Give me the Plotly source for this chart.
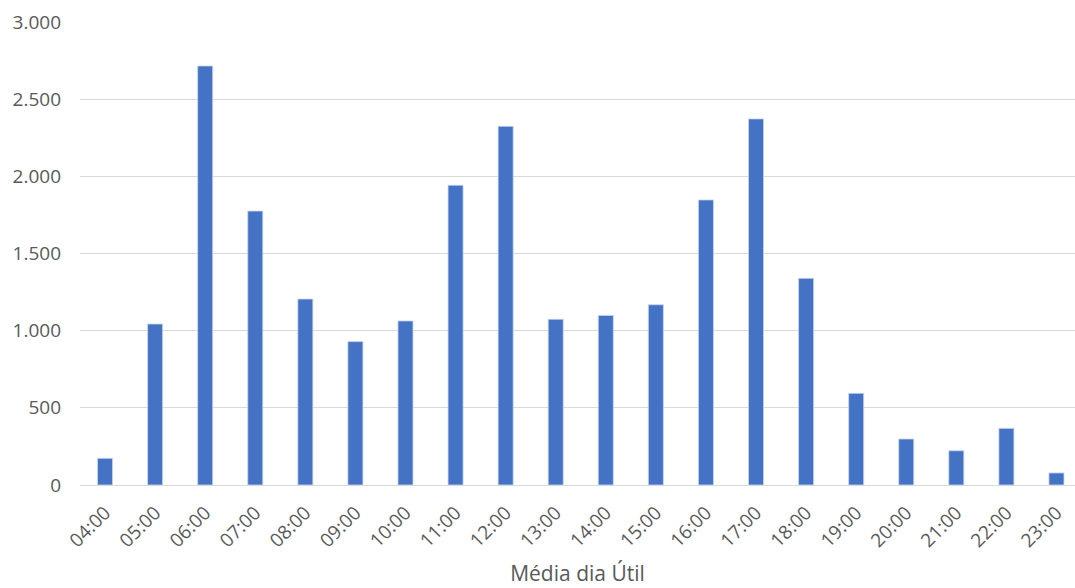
import plotly.graph_objects as go

# Average weekday volume per hour
hours = ["04:00", "05:00", "06:00", "07:00", "08:00", "09:00", "10:00", "11:00",
         "12:00", "13:00", "14:00", "15:00", "16:00", "17:00", "18:00", "19:00",
         "20:00", "21:00", "22:00", "23:00"]
values = [173, 1043, 2715, 1775, 1205, 929, 1063, 1942, 2324, 1074,
          1099, 1168, 1847, 2372, 1339, 594, 298, 222, 367, 78]

y_ticks = [0, 500, 1000, 1500, 2000, 2500, 3000]
y_tick_text = ["0", "500", "1.000", "1.500", "2.000", "2.500", "3.000"]

bar_color = "#4472C4"
text_color = "#595959"
grid_color = "#D9D9D9"

fig = go.Figure(
    go.Bar(
        x=list(range(len(hours))),
        y=values,
        marker=dict(color=bar_color, line=dict(color="#C9D6EE", width=0.8)),
        width=0.3,
    )
)

fig.update_layout(
    width=1075,
    height=588,
    margin=dict(l=80, r=0, t=22, b=103),
    paper_bgcolor="white",
    plot_bgcolor="white",
    showlegend=False,
    font=dict(family="Open Sans, sans-serif", color=text_color, size=19),
)

fig.update_xaxes(
    range=[-0.5, 19.37],
    tickmode="array",
    tickvals=list(range(len(hours))),
    ticktext=hours,
    tickangle=-45,
    tickfont=dict(size=19, color=text_color),
    showgrid=False,
    showline=False,
    zeroline=False,
    ticks="",
    ticklabelstandoff=12,
    title=dict(text="Média dia Útil", font=dict(size=21, color=text_color), standoff=14),
)

fig.update_yaxes(
    range=[0, 3000],
    tickmode="array",
    tickvals=y_ticks,
    ticktext=y_tick_text,
    tickfont=dict(size=19, color=text_color),
    showgrid=True,
    gridcolor=grid_color,
    gridwidth=1,
    zeroline=True,
    zerolinecolor=grid_color,
    zerolinewidth=1,
    showline=False,
    ticks="",
    ticklabelstandoff=18,
)

fig.write_html("out.html")
